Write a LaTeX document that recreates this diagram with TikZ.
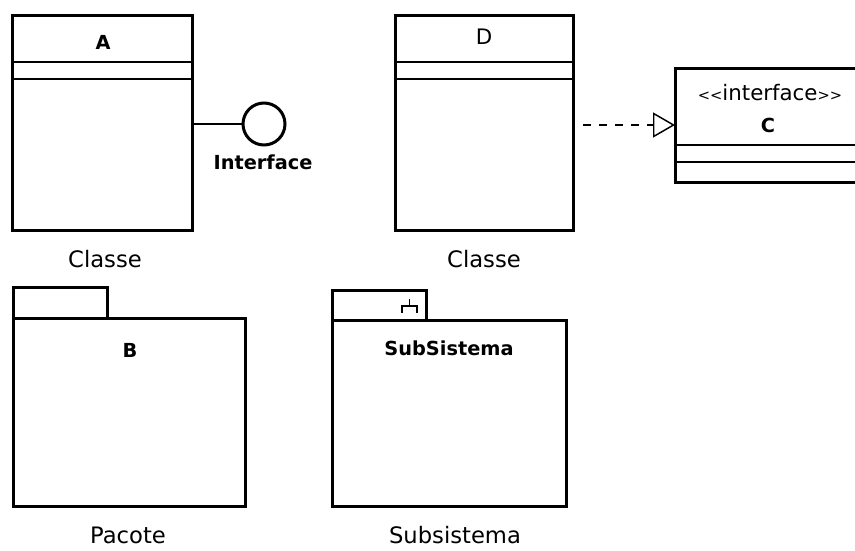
\documentclass[tikz,border=0pt]{standalone}
\usepackage{fontspec}
\setmainfont{DejaVu Sans}
\usetikzlibrary{arrows.meta, positioning, calc}
\tikzset{
    umlbox/.style={rectangle, draw, line width=2.25pt, inner sep=0pt,
                   outer sep=0pt},
    compline/.style={-, line width=1.1pt},
    assoc/.style={-, line width=1.1pt},
    caption/.style={font=\fontsize{17}{20}\selectfont},
    stereo/.style={font=\fontsize{16}{19}\selectfont},
    cname/.style={font=\fontsize{14.5}{17}\selectfont\bfseries},
    lollipop/.style={circle, draw, line width=2.25pt, minimum size=31.5pt,
                     inner sep=0pt},
    realize/.style={-{Triangle[open, length=16.5pt, width=18.75pt]},
                    line width=1.1pt, dash pattern=on 6pt off 6pt},
}
\newcommand{\smallangle}[1]{{\fontsize{11}{11}\selectfont#1\kern0pt#1}}

\begin{document}
\begin{tikzpicture}[x=0.75pt, y=-0.75pt]
    \useasboundingbox (0,0) rectangle (855,550);
    % class A with provided interface
    \node[umlbox, minimum width=135pt, minimum height=161.25pt] (A) at (102,122.5) {};
    \draw[compline] ($(A.north west)+(0,47)$) -- ($(A.north east)+(0,47)$);
    \draw[compline] ($(A.north west)+(0,64)$) -- ($(A.north east)+(0,64)$);
    \node[cname] (Aname) at (103,42) {A};
    \node[lollipop] (iface) at (264,124) {};
    \draw[assoc] (A.east |- iface.west) -- (iface.west);
    \node[cname] (ifacename) at (263,162) {Interface};
    \node[caption] (Acap) at (105,259) {Classe};
    % class D realizing interface C
    \node[umlbox, minimum width=133.5pt, minimum height=161.25pt] (D) at (484,122.5) {};
    \draw[compline] ($(D.north west)+(0,47)$) -- ($(D.north east)+(0,47)$);
    \draw[compline] ($(D.north west)+(0,64)$) -- ($(D.north east)+(0,64)$);
    \node[stereo] (Dname) at (484,37) {D};
    \node[caption] (Dcap) at (484,259) {Classe};
    \node[umlbox, minimum width=146.25pt, minimum height=85.5pt] (C) at (772.5,125) {};
    \draw[compline] ($(C.north west)+(0,77)$) -- ($(C.north east)+(0,77)$);
    \draw[compline] ($(C.north west)+(0,94)$) -- ($(C.north east)+(0,94)$);
    \node[stereo] (Cstereo) at (770,93) {\smallangle{<}interface\smallangle{>}};
    \node[cname] (Cname) at (768,125) {C};
    \draw[realize, shorten <=7.5pt] (D.east |- C.west) -- (C.west);
    % package B
    \node[umlbox, minimum width=174pt, minimum height=141pt] (B) at (129,412) {};
    \node[umlbox, minimum width=70.5pt, minimum height=23.25pt, anchor=south west] (Btab) at (B.north west) {};
    \node[cname] (Bname) at (130,350) {B};
    \node[caption] (Bcap) at (128,535) {Pacote};
    % subsystem
    \node[umlbox, minimum width=175.5pt, minimum height=139.5pt] (S) at (449,413) {};
    \node[umlbox, minimum width=70.5pt, minimum height=22.5pt, anchor=south west] (Stab) at (S.north west) {};
    \draw[assoc] ($(Stab.north east)+(-24,23)$) -- ($(Stab.north east)+(-24,16)$)
        -- ($(Stab.north east)+(-9,16)$) -- ($(Stab.north east)+(-9,23)$);
    \draw[assoc] ($(Stab.north east)+(-16.5,16)$) -- ($(Stab.north east)+(-16.5,9)$);
    \node[cname] (Sname) at (449,348) {SubSistema};
    \node[caption] (Scap) at (455,535) {Subsistema};
\end{tikzpicture}
\end{document}
